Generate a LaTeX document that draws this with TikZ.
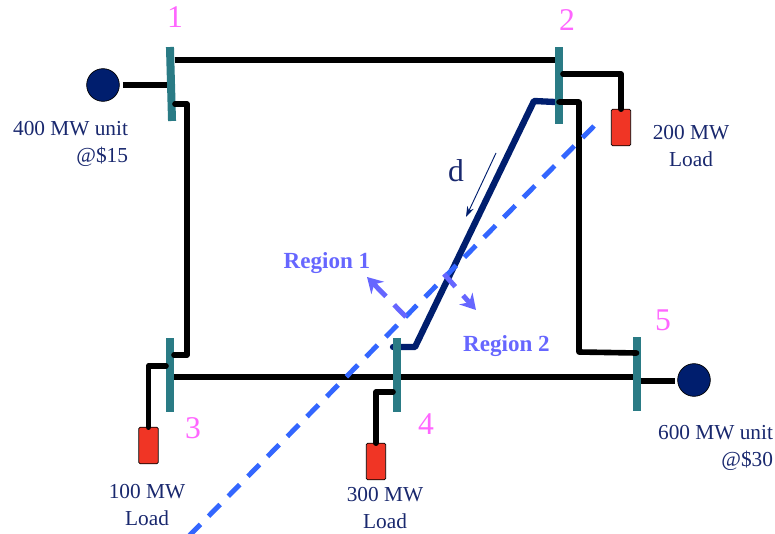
\documentclass[tikz,border=0pt]{standalone}
\usepackage{fontspec}
\setmainfont{Liberation Serif}
\usetikzlibrary{arrows.meta,backgrounds}
\definecolor{BusTeal}{RGB}{42,123,133}
\definecolor{LineNavy}{RGB}{0,30,110}
\definecolor{TextNavy}{RGB}{25,40,110}
\definecolor{LoadRed}{RGB}{240,53,37}
\definecolor{CutBlue}{RGB}{51,102,255}
\definecolor{RegionBlue}{RGB}{102,102,255}
\definecolor{BusPink}{RGB}{255,102,255}

\begin{document}
\begin{tikzpicture}[
                        x=0.03cm, y=-0.03cm,
                        every node/.style={inner sep=0pt, outer sep=0pt},
                        bus/.style={rectangle, fill=BusTeal, minimum width=0.24cm, minimum height=2.22cm},
                        gen/.style={circle, fill=LineNavy, draw=black, line width=0.6pt, minimum size=0.98cm},
                        load/.style={rectangle, rounded corners=1.2pt, fill=LoadRed, draw=black, line width=0.7pt, minimum width=0.58cm, minimum height=1.1cm},
                        wire/.style={line width=4.8pt, black, line join=round, line cap=round},
                        flowline/.style={line width=5.4pt, LineNavy, line join=round, line cap=round},
                        cutline/.style={line width=4.2pt, CutBlue, dash pattern=on 14pt off 9.9pt},
                        regionarrow/.style={line width=4.2pt, RegionBlue, dash pattern=on 14.5pt off 10pt, -{Stealth[length=13pt,width=15pt]}},
                        busnum/.style={text=BusPink, font=\fontsize{27}{30}\selectfont},
                        info/.style={text=TextNavy, font=\fontsize{18.2}{23}\selectfont, align=center},
                        regionlabel/.style={text=RegionBlue, font=\fontsize{19.7}{23}\selectfont\bfseries}
                    ]
                        \useasboundingbox (0,0) rectangle (775,534);

                        % buses
                        \node[bus, rotate=1.6] (busa) at (171,84) {};
                        \node[bus, minimum height=2.31cm] (busb) at (559,85.5) {};
                        \node[bus] (busc) at (170,375) {};
                        \node[bus] (busd) at (397,375) {};
                        \node[bus] (buse) at (636.5,374) {};

                        % generators and loads
                        \node[gen] (gena) at (103,85) {};
                        \node[gen] (gene) at (694,380) {};
                        \node[load] (loadb) at (621,127.5) {};
                        \node[load] (loadc) at (148.5,445.5) {};
                        \node[load] (loadd) at (376,461.5) {};

                        % these two run under the buses
                        \begin{scope}[on background layer]
                            \draw[wire, line cap=butt] (busc.east |- 0,377) -- (buse.west |- 0,377);
                            \draw[flowline] (busb.west |- 0,102) -- (534,101) -- (415,347) -- (busd.west |- 0,347);
                        \end{scope}

                        \draw[wire, line cap=butt, shorten <=3pt] (gena.east |- 0,85) -- (busa.west |- 0,85);
                        \draw[wire, line cap=butt] (busa.east |- 0,60) -- (busb.west |- 0,60);
                        \draw[wire, line cap=butt, shorten >=2pt] (buse.east |- 0,381) -- (gene.west |- 0,381);
                        \draw[wire] (busa.east |- 0,104) -| (187,355) -- (busc.east |- 0,355);
                        \draw[wire] (busb.east |- 0,74) -| (loadb.north);
                        \draw[wire] (busb.center |- 0,102) -| (579,352) -- (buse.center |- 0,353);
                        \draw[wire] (busc.west |- 0,366) -| (loadc.north);
                        \draw[wire] (busd.west |- 0,392) -| (loadd.north);

                        % cut and the two sides
                        \coordinate (cuttop) at (594,126);
                        \coordinate (cutend) at (188,537);
                        \coordinate (regonestart) at (406,317);
                        \coordinate (regonetip) at (367,277);
                        \coordinate (regtwostart) at (444,274);
                        \coordinate (regtwotip) at (476,310);
                        \draw[cutline] (cuttop) -- (cutend);
                        \draw[regionarrow] (regonestart) -- (regonetip);
                        \draw[regionarrow] (regtwostart) -- (regtwotip);

                        \coordinate (flowstart) at (496,153);
                        \coordinate (flowtip) at (466,217);
                        \draw[-{Stealth[length=9pt,width=6pt]}, line width=0.8pt, LineNavy] (flowstart) -- (flowtip);

                        % labels
                        \node[busnum] (numa) at (175,17) {1};
                        \node[busnum] (numb) at (567,20) {2};
                        \node[busnum] (numc) at (193,428) {3};
                        \node[busnum] (numd) at (426,424) {4};
                        \node[busnum] (nume) at (663,320) {5};
                        \node[info, align=right, anchor=east] (infoa) at (128,144) {400 MW unit\\@\$15};
                        \node[info, align=right, anchor=east] (infoe) at (773,448) {600 MW unit\\@\$30};
                        \node[info] (infob) at (691,146) {200 MW\\Load};
                        \node[info] (infoc) at (147,505) {100 MW\\Load};
                        \node[info] (infod) at (385,508) {300 MW\\Load};
                        \node[text=TextNavy, font=\fontsize{27}{30}\selectfont] (flowlabel) at (456,171) {d};
                        \node[regionlabel] (regone) at (327,263) {Region 1};
                        \node[regionlabel] (regtwo) at (506.5,346) {Region 2};
                    \end{tikzpicture}
\end{document}
